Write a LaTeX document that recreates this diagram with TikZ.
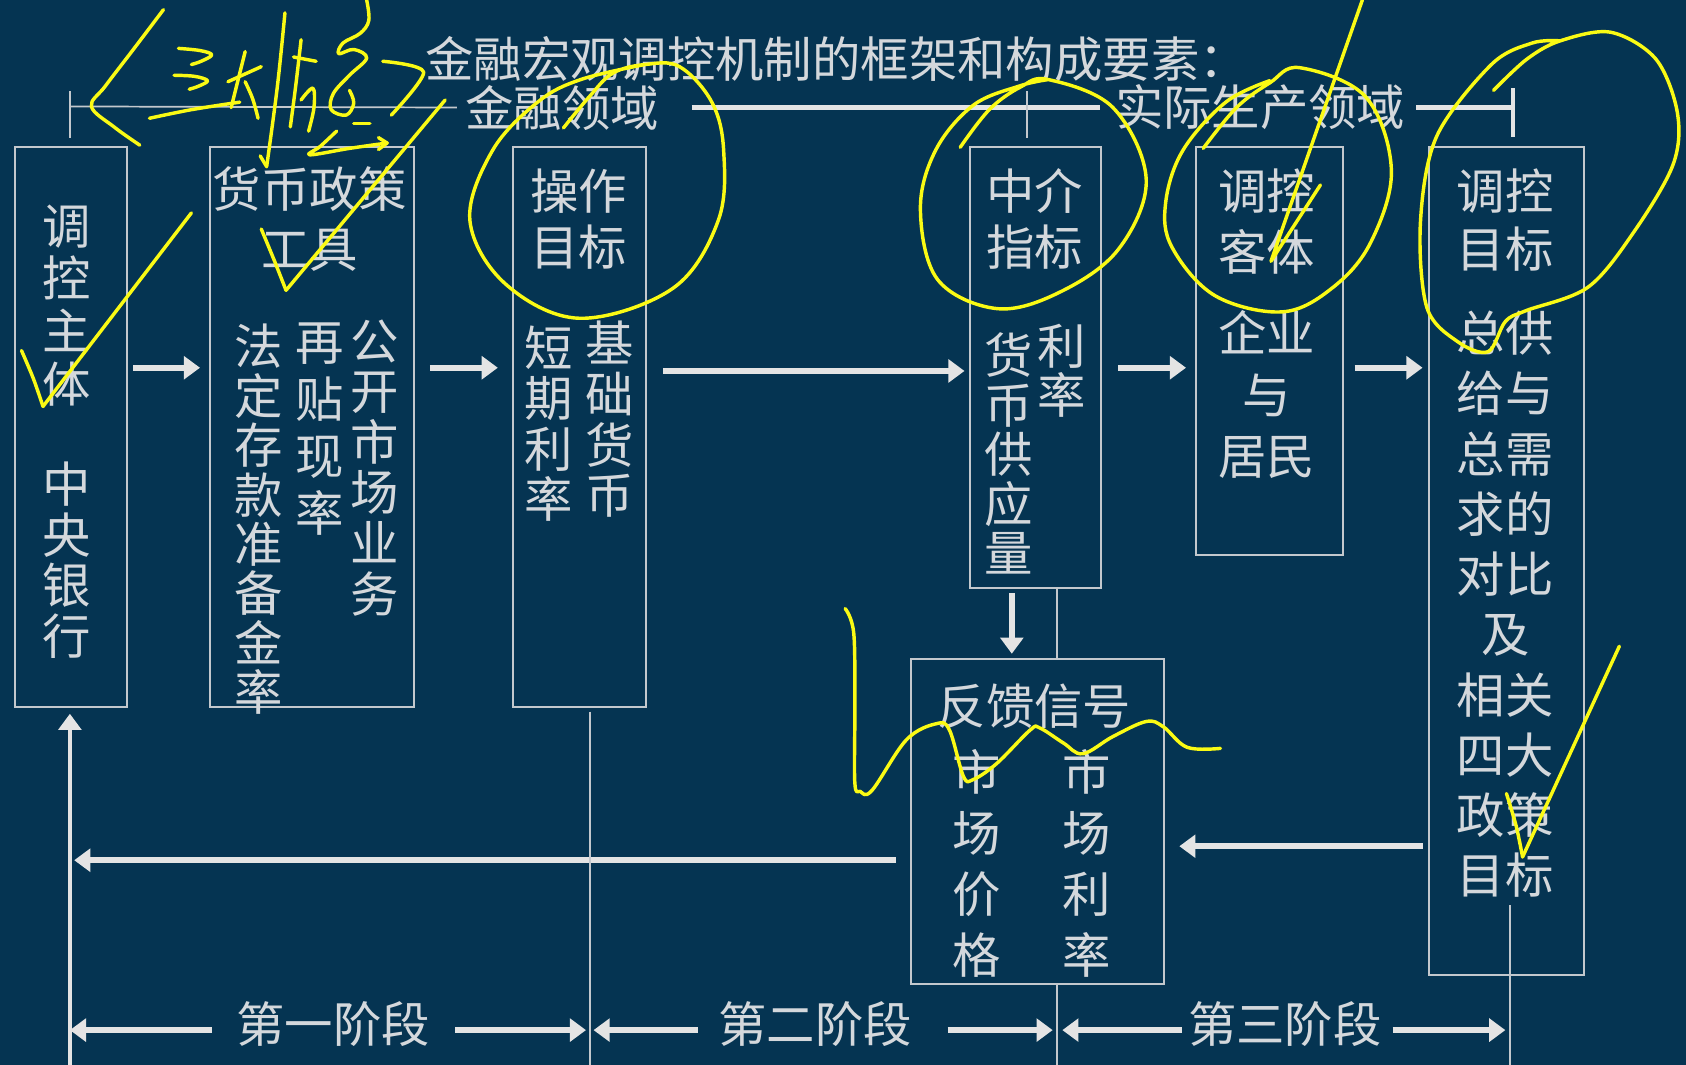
\documentclass[tikz,border=0pt]{standalone}
\usepackage{fontspec}
\newfontfamily\cjk{Noto Sans CJK SC}
\usetikzlibrary{arrows.meta}
\definecolor{bgc}{RGB}{5,52,82}
\definecolor{linec}{RGB}{195,200,205}
\definecolor{txtc}{RGB}{212,216,220}
\definecolor{arrc}{RGB}{228,228,228}
\definecolor{yel}{RGB}{250,250,20}
\begin{document}
\begin{tikzpicture}[x=1pt,y=-1pt,
  boxst/.style={draw=linec, line width=1.8pt, inner sep=0pt, anchor=north west},
  cn/.style={text=txtc, inner sep=0pt, align=center, font=\cjk\fontsize{45}{#1}\selectfont},
  cn/.default=50,
  fat/.style={draw=arrc, line width=6pt, -{Triangle[length=15pt,width=21pt]}},
  thinl/.style={draw=linec, line width=1.6pt},
  hand/.style={draw=yel, line width=3.2pt, line cap=round, line join=round},
]
\fill[bgc] (0,0) rectangle (1568,990);
\useasboundingbox (0,0) rectangle (1568,990);

% boxes
\node[boxst, minimum width=104pt, minimum height=521pt] (b1) at (13,136) {};
\node[boxst, minimum width=190pt, minimum height=521pt] (b2) at (194,136) {};
\node[boxst, minimum width=124pt, minimum height=521pt] (b3) at (476,136) {};
\node[boxst, minimum width=122pt, minimum height=410pt] (b4) at (901,136) {};
\node[boxst, minimum width=137pt, minimum height=379pt] (b5) at (1111,136) {};
\node[boxst, minimum width=144pt, minimum height=770pt] (b6) at (1328,136) {};
\node[boxst, minimum width=236pt, minimum height=302pt] (b7) at (846,612) {};

% texts
\node[cn] (title) at (778,55) {金融宏观调控机制的框架和构成要素：};
\node[cn] (dom1) at (523,100) {金融领域};
\node[cn] (dom2) at (1172,100) {实际生产领域};

\node[cn=49] (b1a) at (62,284) {调\\控\\主\\体};
\node[cn=47] (b1b) at (62,521) {中\\央\\银\\行};

\node[cn=56] (b2h) at (288,204) {货币政策\\工具};
\node[cn=47] (b2c1) at (348,435) {公\\开\\市\\场\\业\\务};
\node[cn=53] (b2c2) at (297,399) {再\\贴\\现\\率};
\node[cn=46] (b2c3) at (241,483) {法\\定\\存\\款\\准\\备\\金\\率};

\node[cn=52] (b3h) at (538,204) {操作\\目标};
\node[cn=47] (b3c1) at (567,390) {基\\础\\货\\币};
\node[cn=47] (b3c2) at (510,394) {短\\期\\利\\率};

\node[cn=52] (b4h) at (962,204) {中介\\指标};
\node[cn=46] (b4c1) at (987,345) {利\\率};
\node[cn=46] (b4c2) at (938,422) {货\\币\\供\\应\\量};

\node[cn=57] (b5h) at (1178,206) {调控\\客体};
\node[cn=57] (b5b) at (1178,367) {企业\\与\\居民};

\node[cn=54] (b6h) at (1400,205) {调控\\目标};
\node[cn=56] (b6b) at (1400,562) {总供\\给与\\总需\\求的\\对比\\及\\相关\\四大\\政策\\目标};

\node[cn] (b7h) at (962,657) {反馈信号};
\node[cn=57] (b7c1) at (908,803) {市\\场\\价\\格};
\node[cn=57] (b7c2) at (1011,803) {市\\场\\利\\率};

\node[cn] (st1) at (310,952) {第一阶段};
\node[cn] (st2) at (758,952) {第二阶段};
\node[cn] (st3) at (1195,952) {第三阶段};

% coordinates
\coordinate (t0) at (65,99);
\coordinate (t1) at (955,99);
\coordinate (t2) at (1407,100);
\coordinate (s0) at (65,990);
\coordinate (s1) at (549,990);
\coordinate (s2) at (983,990);
\coordinate (s3) at (1404,990);
\coordinate (s3top) at (1404,842);
\coordinate (sy) at (0,958);
\coordinate (row) at (0,342);
\coordinate (row2) at (0,345);
\coordinate (row3) at (0,787);
\coordinate (row4) at (0,800);
\coordinate (dx) at (941,0);
\coordinate (fbend) at (69,800);

% top domain line
\draw[thinl, shorten >=8pt] (t0) -- (dom1.west);
\draw[draw=arrc, line width=4.5pt, shorten <=30pt, shorten >=14pt] (dom1.east) -- (dom2.west);
\draw[thinl] ([yshift=14pt]t0) -- ([yshift=-29pt]t0);
\draw[thinl] ([yshift=14pt]t1) -- ([yshift=-29pt]t1);
\draw[draw=arrc, line width=4.5pt, shorten <=10pt] (dom2.east) -- (t2);
\draw[draw=arrc, line width=4pt] ([yshift=18pt]t2) -- ([yshift=-27pt]t2);

% main arrows
\draw[fat, shorten <=5pt, shorten >=8pt] (b1.east |- row) -- (b2.west |- row);
\draw[fat, shorten <=14pt, shorten >=13pt] (b2.east |- row) -- (b3.west |- row);
\draw[fat, shorten <=15pt, shorten >=4pt] (b3.east |- row2) -- (b4.west |- row2);
\draw[fat, shorten <=15pt, shorten >=8pt] (b4.east |- row) -- (b5.west |- row);
\draw[fat, shorten <=10pt, shorten >=5pt] (b5.east |- row) -- (b6.west |- row);
\draw[fat, shorten <=4pt, shorten >=4pt] (b4.south -| dx) -- (b7.north -| dx);
\draw[fat, shorten <=5pt, shorten >=13pt] (b6.west |- row3) -- (b7.east |- row3);
\draw[fat, shorten <=13pt] (b7.west |- row4) -- (fbend);
\draw[fat, line width=4pt, shorten >=5pt] (s0) -- (b1.south -| s0);

% thin dividers
\draw[thinl, shorten <=3pt] (b3.south -| s1) -- (s1);
\draw[thinl] (b4.south -| s2) -- (b7.north -| s2);
\draw[thinl] (b7.south -| s2) -- (s2);
\draw[thinl] (s3top) -- (s3);

% stage arrows
\draw[fat, shorten <=23pt] (st1.west |- sy) -- (sy -| s0);
\draw[fat, shorten <=23pt, shorten >=4pt] (st1.east |- sy) -- (sy -| s1);
\draw[fat, shorten <=19pt, shorten >=3pt] (st2.west |- sy) -- (sy -| s1);
\draw[fat, shorten <=33pt, shorten >=4pt] (st2.east |- sy) -- (sy -| s2);
\draw[fat, shorten <=6pt, shorten >=5pt] (st3.west |- sy) -- (sy -| s2);
\draw[fat, shorten <=10pt, shorten >=4pt] (st3.east |- sy) -- (sy -| s3);

% yellow handwritten annotations
\draw[hand] plot[smooth, tension=0.6] coordinates {(152,9) (124,46) (98,80) (85,99) (106,118) (130,135)};
\draw[hand] plot[smooth, tension=0.6] coordinates {(166,45) (186,47) (197,51) (187,57) (178,60)};
\draw[hand] plot[smooth, tension=0.6] coordinates {(162,70) (181,71) (193,75) (185,80) (176,83)};
\draw[hand] plot[smooth, tension=0.6] coordinates {(139,110) (178,102) (223,95)};
\draw[hand] (228,48) -- (215,100);
\draw[hand] (212,76) -- (243,62);
\draw[hand] plot[smooth, tension=0.6] coordinates {(228,76) (235,92) (240,110)};
\draw[hand] plot[smooth, tension=0.6] coordinates {(265,12) (258,80) (248,155)};
\draw[hand] (242,145) -- (248,155);
\draw[hand] (273,53) -- (294,57);
\draw[hand] plot[smooth, tension=0.6] coordinates {(280,37) (275,80) (270,118)};
\draw[hand] plot[smooth, tension=0.6] coordinates {(280,93) (291,82) (292,100) (287,122)};
\draw[hand] plot[smooth, tension=0.6] coordinates {(341,0) (343,19) (335,31) (319,40) (315,50) (329,46) (341,54) (325,70) (310,87) (308,102) (322,107) (329,96) (325,84)};
\draw[hand] (329,115) -- (344,115);
\draw[hand] plot[smooth, tension=0.6] coordinates {(313,122) (298,136) (288,144) (325,138) (360,133)};
\draw[hand] (352,128) -- (360,133) -- (352,139);
\draw[hand] plot[smooth, tension=0.5] coordinates {(356,57) (394,67) (364,107)};
\draw[hand] plot[smooth, tension=0.5] coordinates {(243,213) (255,242) (266,270)};
\draw[hand] (266,270) -- (414,93);
\draw[hand] plot[smooth, tension=0.5] coordinates {(20,326) (31,352) (40,378)};
\draw[hand] (40,378) -- (178,198);
% loop round operating target
\draw[hand] plot[smooth, tension=0.6] coordinates {(524,119) (548,90) (570,68) (600,60) (632,62) (662,95) (673,140) (668,205) (626,268) (539,296) (470,264) (437,205) (458,140) (500,95) (540,74) (600,60)};
% loop round intermediate indicator
\draw[hand] plot[smooth, tension=0.6] coordinates {(893,137) (920,102) (949,81) (975,74) (1035,100) (1066,167) (1040,232) (985,272) (927,287) (872,260) (856,195) (870,140) (905,98) (948,80) (975,74)};
% loop round regulated object
\draw[hand] plot[smooth, tension=0.6] coordinates {(1119,138) (1150,100) (1181,77) (1209,63) (1270,90) (1294,158) (1275,225) (1240,267) (1193,290) (1130,275) (1090,230) (1084,189) (1100,140) (1140,95) (1181,75)};
\draw[hand] (1267,0) -- (1182,243) -- (1228,172);
% bubble round regulation target
\draw[hand] plot[smooth, tension=0.55] coordinates {(1389,84) (1420,55) (1451,38) (1498,30) (1540,55) (1560,105) (1556,153) (1520,215) (1477,267) (1419,289) (1400,299) (1384,327) (1356,318) (1327,286) (1321,207) (1336,127) (1387,60) (1425,40) (1451,38)};
\draw[hand] plot[smooth, tension=0.5] coordinates {(1401,738) (1410,768) (1416,797)};
\draw[hand] (1416,797) -- (1506,601);
% wavy line
\draw[hand] plot[smooth, tension=0.6] coordinates {(786,566) (794,589) (795,660) (795,728) (800,736) (811,735) (843,688) (871,673) (883,679) (896,722) (905,725) (927,710) (958,679) (967,677) (989,691) (1007,701) (1035,685) (1066,671) (1082,676) (1104,695) (1135,696)};
\end{tikzpicture}
\end{document}
